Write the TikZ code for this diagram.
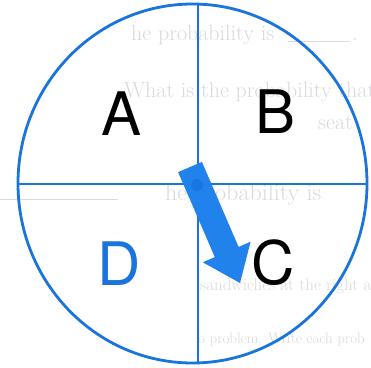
\documentclass[tikz,border=0pt]{standalone}
\usepackage{fontspec}
\setsansfont{TeX Gyre Heros}
\definecolor{spinblue}{RGB}{25,116,220}
\definecolor{arrowblue}{RGB}{32,130,234}
\definecolor{pivotblue}{RGB}{10,95,215}
\definecolor{faint}{RGB}{218,218,222}
\begin{document}
\begin{tikzpicture}[x=1pt,y=-1pt,
  letter/.style={anchor=base,inner sep=0pt,font=\sffamily\fontsize{60}{60}\selectfont},
  ghost/.style={anchor=base west,inner sep=0pt,text=faint,font=\fontsize{22}{22}\selectfont},
  smallghost/.style={ghost,font=\fontsize{17}{17}\selectfont},
  rim/.style={draw=spinblue,line width=2.8pt},
  cross/.style={draw=spinblue,line width=1.8pt}]
\useasboundingbox (0,0) rectangle (371,367);
\fill[white] (0,0) rectangle (371,367);
% faint bleed-through text
\node[ghost] (g1) at (131,40) {he probability is};
\draw[faint,line width=1pt] (288,41) -- (350,41);
\node[ghost] (g1b) at (352,40) {.};
\node[ghost] (g2) at (124,97) {What is the probability that};
\node[ghost] (g3) at (318,129) {seat};
\node[ghost,font=\fontsize{24}{24}\selectfont] (g4) at (165,200) {he probability is};
\draw[faint,line width=1pt] (0,199) -- (118,199);
\node[smallghost] (g5) at (200,290) {sandwiches at the right a};
\node[smallghost,font=\fontsize{15}{15}\selectfont] (g6) at (198,343) {o problem. Write each prob};
% spinner
\draw[rim] (192.5,183.5) ellipse [x radius=174.5, y radius=179.5];
\coordinate (top) at (198,4);
\coordinate (bot) at (198,363);
\coordinate (lft) at (18,184);
\coordinate (rgt) at (367,184);
\draw[cross] (top) -- (bot);
\draw[cross] (lft) -- (rgt);
% arrow
\fill[arrowblue] (201.9,161.9) -- (238.6,246.9) -- (250.6,241.7) -- (240,283)
  -- (202.8,262.3) -- (214.8,257.1) -- (178.1,172.1) -- cycle;
\fill[pivotblue,opacity=0.35] (197,185) circle (6);
% letters
\node[letter,text=black] (A) at (122,135) {A};
\node[letter,text=black] (B) at (276,133) {B};
\node[letter,text=black] (C) at (273,284) {C};
\node[letter,text=spinblue] (D) at (119,285) {D};
\end{tikzpicture}
\end{document}
